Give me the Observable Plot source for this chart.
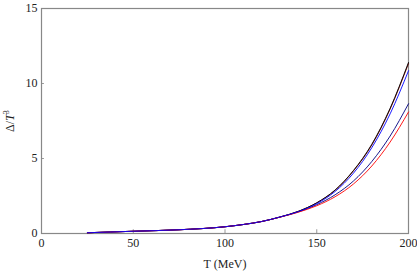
<!DOCTYPE html>
<html><head><meta charset="utf-8">
<script src="https://cdn.jsdelivr.net/npm/d3@7"></script>
<script src="https://cdn.jsdelivr.net/npm/@observablehq/plot@0.6"></script>
<style>body{margin:0;background:#fff} svg text{font-family:'Liberation Serif','DejaVu Serif',serif !important;}</style>
</head><body><div id="chart"></div>
<script>
const T = [25, 50, 75, 100, 110, 120, 130, 140, 150, 160, 170, 180, 190, 200];
const black  = [0.05, 0.15, 0.25, 0.45, 0.6, 0.8, 1.1, 1.48, 2.05, 2.9, 4.2, 5.95, 8.35, 11.4];
const maroon = [0.05, 0.15, 0.25, 0.45, 0.6, 0.8, 1.1, 1.48, 2.04, 2.88, 4.17, 5.9, 8.3, 11.33];
const blue   = [0.05, 0.15, 0.25, 0.45, 0.6, 0.8, 1.1, 1.46, 1.99, 2.8, 4.02, 5.72, 7.98, 10.85];
const navy   = [0.05, 0.15, 0.25, 0.45, 0.6, 0.8, 1.1, 1.44, 1.92, 2.58, 3.5, 4.8, 6.5, 8.65];
const red    = [0.05, 0.15, 0.25, 0.45, 0.6, 0.8, 1.09, 1.42, 1.85, 2.45, 3.3, 4.5, 6.1, 8.1];
const seriesNames = ["maroon", "black", "navy", "red", "blue"];
const seriesColors = ["#6b1a1a", "#000000", "#00008b", "#ff2020", "#2a2aff"];
const seriesValues = {maroon, black, navy, red, blue};
const xTicks = [0, 50, 100, 150, 200];
const yTicks = [0, 5, 10, 15];

const data = seriesNames.flatMap(s => T.map((t, i) => ({s, t, v: seriesValues[s][i]})));
const font = "'Liberation Serif', 'DejaVu Serif', serif";

const plot = Plot.plot({
  width: 417, height: 271,
  marginLeft: 41, marginRight: 9, marginTop: 8, marginBottom: 38,
  style: {fontFamily: font, fontSize: "12px", color: "#222", background: "#fff"},
  x: {domain: [0, 200], ticks: xTicks, tickSize: 0, tickPadding: 5, label: "T (MeV)", labelAnchor: "center", labelOffset: 34},
  y: {domain: [0, 15], ticks: yTicks, tickSize: 0, tickPadding: 4, label: "Δ/T³", labelAnchor: "center", labelOffset: 36},
  color: {domain: seriesNames, range: seriesColors},
  marks: [
    Plot.ruleX(xTicks.slice(1, -1), {y1: 0, y2: 0.25, stroke: "#999"}),
    Plot.ruleY(yTicks.slice(1, -1), {x1: 0, x2: 1.6, stroke: "#999"}),
    Plot.frame({stroke: "#888", strokeWidth: 1.2}),
    Plot.line(data, {x: "t", y: "v", z: "s", stroke: "s", strokeWidth: 0.9, curve: "monotone-x"})
  ]
});
document.getElementById("chart").appendChild(plot);
const NS = "http://www.w3.org/2000/svg";
plot.querySelectorAll("text").forEach(t => {
  const s = t.textContent;
  if (s.startsWith("T (MeV)")) t.textContent = "T (MeV)";
  if (s.startsWith("Δ")) {
    t.textContent = "";
    const a = document.createElementNS(NS, "tspan"); a.textContent = "Δ/";
    const b = document.createElementNS(NS, "tspan"); b.textContent = "T"; b.setAttribute("font-style", "italic");
    const c = document.createElementNS(NS, "tspan"); c.textContent = "3"; c.setAttribute("font-size", "8"); c.setAttribute("dy", "-5");
    t.append(a, b, c);
  }
});
</script></body></html>
